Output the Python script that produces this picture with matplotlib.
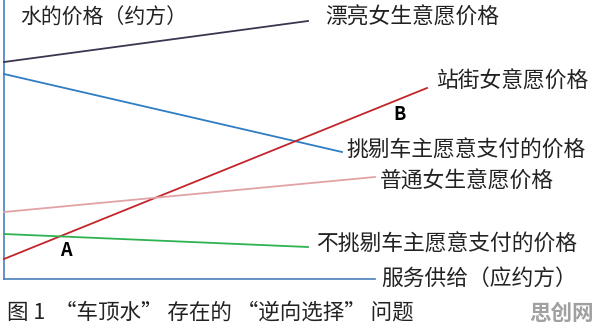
import matplotlib.pyplot as plt

plt.rcParams['font.family'] = ['Noto Sans CJK SC', 'DejaVu Sans']

# curve endpoints, in picture pixels (x right, y down)
names = ['漂亮女生意愿价格', '挑剔车主愿意支付的价格', '站街女意愿价格',
         '普通女生意愿价格', '不挑剔车主愿意支付的价格']
x0 = [4, 4, 4, 4, 4]
y0 = [62, 74, 259, 212, 234]
x1 = [308, 342, 427, 375, 308]
y1 = [21, 152, 88, 177, 247]
colors = ['#3d3550', '#2f7dc2', '#c3252b', '#e2a3a5', '#2fb352']

# label positions (left edge, centre y)
label_x = [325, 346, 437, 380, 316]
label_y = [18, 151, 82, 182, 245]

fig = plt.figure(figsize=(5.96, 3.32), dpi=100)
ax = fig.add_axes([0, 0, 1, 1])
ax.set_xlim(0, 596)
ax.set_ylim(332, 0)
ax.axis('off')

# axes of the diagram
ax.plot([4, 4], [0, 279], color='#4a7ebb', lw=1.2)
ax.plot([4, 375], [279, 279], color='#4a7ebb', lw=1.2)

for i in range(len(names)):
    ax.plot([x0[i], x1[i]], [y0[i], y1[i]], color=colors[i], lw=1.3)
    ax.text(label_x[i], label_y[i], names[i], fontsize=15.7, va='center',
            ha='left', color='#222222')

ax.text(20, 18, '水的价格（约方）', fontsize=15, va='center', color='#222222')
ax.text(381, 279, '服务供给（应约方）', fontsize=15.7, va='center', color='#222222')
ax.text(400, 115, 'B', fontsize=13, fontweight='bold', va='center', ha='center')
ax.text(66, 250, 'A', fontsize=13, fontweight='bold', va='center', ha='center')
ax.text(7, 313, '图 1  “车顶水” 存在的 “逆向选择” 问题', fontsize=15.5,
        va='center', color='#222222')
ax.text(561, 313, '思创网', fontsize=15.5, fontweight='bold', va='center',
        ha='center', color='#a0a0a0')

fig.savefig('out.png', dpi=100)
